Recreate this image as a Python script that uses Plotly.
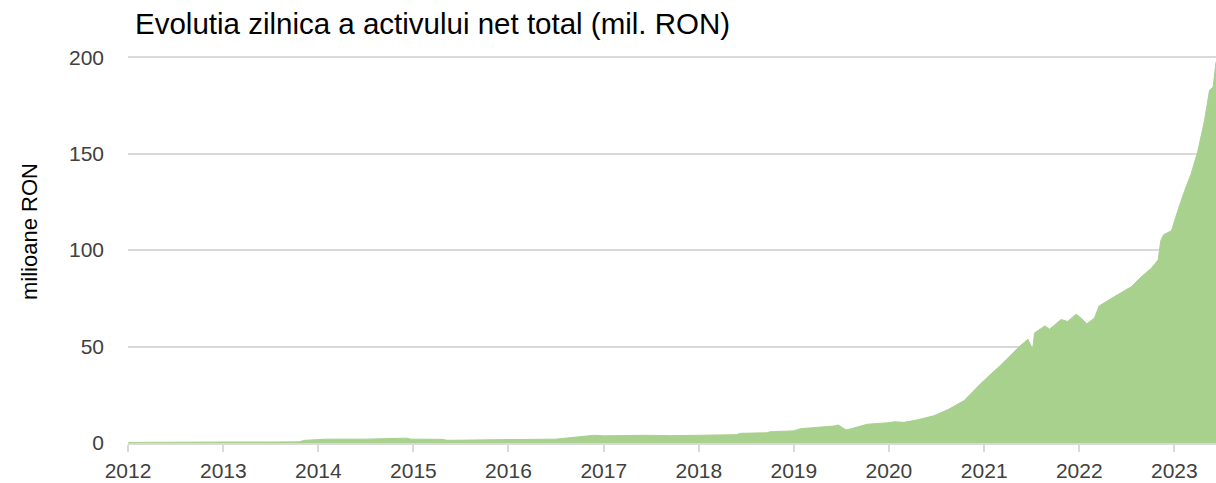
import plotly.graph_objects as go

dates = [
    "2012-01-02", "2012-04-01", "2012-08-07", "2013-01-02", "2013-07-01", "2013-10-19",
    "2013-11-10", "2014-01-19", "2014-02-03", "2014-07-01", "2014-11-06", "2014-12-02",
    "2014-12-24", "2015-04-20", "2015-05-12", "2016-01-01", "2016-01-19", "2016-07-01",
    "2016-09-13", "2016-11-25", "2017-01-01", "2017-06-07", "2017-09-13", "2018-01-01",
    "2018-05-27", "2018-06-07", "2018-09-20", "2018-10-01", "2019-01-01", "2019-01-26",
    "2019-04-13", "2019-06-03", "2019-06-21", "2019-07-20", "2019-08-15", "2019-10-09",
    "2019-12-28", "2020-01-23", "2020-02-28", "2020-04-20", "2020-06-21", "2020-08-15",
    "2020-10-16", "2020-12-20", "2021-03-07", "2021-05-16", "2021-06-18", "2021-07-06",
    "2021-07-13", "2021-08-22", "2021-09-09", "2021-10-23", "2021-11-17", "2021-12-20",
    "2022-01-08", "2022-01-30", "2022-02-28", "2022-03-18", "2022-05-16", "2022-07-20",
    "2022-08-26", "2022-10-05", "2022-10-31", "2022-11-10", "2022-11-21", "2022-12-21",
    "2023-01-15", "2023-02-10", "2023-03-07", "2023-04-02", "2023-04-27", "2023-05-16",
    "2023-05-30", "2023-06-10",
]
net_assets = [
    0.3, 0.4, 0.45, 0.5, 0.5, 0.6,
    1.4, 1.6, 2.0, 2.0, 2.1, 2.5,
    2.0, 1.9, 1.4, 1.5, 1.8, 2.0,
    3.0, 4.0, 3.7, 4.0, 3.8, 4.0,
    4.3, 5.0, 5.3, 5.8, 6.3, 7.4,
    8.1, 8.8, 9.3, 6.8, 7.6, 9.7,
    10.5, 11.0, 10.7, 12.0, 14.1, 17.3,
    22.0, 31.0, 40.6, 50.0, 53.8, 48.5,
    57.0, 60.7, 59.0, 64.0, 63.0, 66.8,
    64.7, 61.8, 64.7, 71.0, 75.9, 81.0,
    86.0, 90.6, 95.0, 105.0, 108.0, 110.0,
    120.7, 131.0, 139.7, 151.7, 167.3, 182.8,
    184.5, 197.5,
]
year_ticks = ["2012", "2013", "2014", "2015", "2016", "2017", "2018",
              "2019", "2020", "2021", "2022", "2023"]
y_ticks = [0, 50, 100, 150, 200]

title_text = "Evolutia zilnica a activului net total (mil. RON)"
y_title = "milioane RON"

FONT = "Liberation Sans"
GREEN = "#a9d18e"
GRID = "#d9d9d9"

fig = go.Figure()
fig.add_trace(go.Scatter(
    x=dates, y=net_assets, mode="lines", fill="tozeroy",
    fillcolor=GREEN, line=dict(color=GREEN, width=1),
    hoverinfo="x+y", showlegend=False,
))

fig.update_layout(
    width=1216, height=483,
    margin=dict(l=128, r=0, t=56, b=40, autoexpand=False),
    paper_bgcolor="white", plot_bgcolor="white",
    title=dict(text=title_text, x=135 / 1216, xanchor="left", xref="container",
               y=1 - 24 / 483, yanchor="middle", yref="container",
               font=dict(family=FONT, size=29.5, color="#000000")),
    font=dict(family=FONT, size=21, color="#404040"),
    annotations=[dict(
        text=y_title, textangle=-90, showarrow=False,
        xref="paper", yref="paper", x=-98 / 1088, y=(443 - 232) / 387,
        xanchor="center", yanchor="middle",
        font=dict(family=FONT, size=22, color="#000000"),
    )],
)

fig.update_xaxes(
    type="date", range=["2012-01-01", dates[-1]], automargin=False,
    tickvals=[y + "-01-01" for y in year_ticks], ticktext=year_ticks,
    showgrid=False, showline=True, linecolor=GRID, linewidth=2,
    ticks="outside", ticklen=7, tickwidth=2, tickcolor=GRID,
    tickfont=dict(family=FONT, size=21, color="#404040"),
    ticklabelstandoff=1,
)
fig.update_yaxes(
    range=[0, 200.6], tickvals=y_ticks, automargin=False,
    showgrid=True, gridcolor=GRID, gridwidth=1.5,
    zeroline=False, showline=False, ticks="",
    tickfont=dict(family=FONT, size=21, color="#404040"),
    ticklabelstandoff=23,
)

fig.write_html("out.html", config={"displayModeBar": False},
               post_script="document.body.style.margin='0';document.body.style.overflow='hidden';")
